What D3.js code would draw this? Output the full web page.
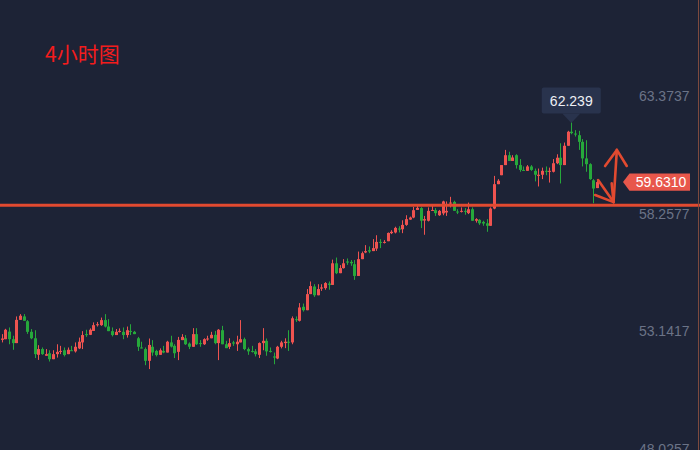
<!DOCTYPE html>
<html lang="zh">
<head>
<meta charset="UTF-8">
<title>4小时图</title>
<style>
  html, body { margin: 0; padding: 0; background: #1d2336; }
  svg { display: block; }
</style>
</head>
<body>
<svg id="chart" width="700" height="450"></svg>
<script src="https://d3js.org/d3.v7.min.js"></script>
<script>
// candle values, oldest first (4h bars)
const opens = [52.77,52.80,53.13,52.80,52.63,53.64,53.79,53.58,53.12,52.84,52.12,52.37,52.08,52.19,51.93,52.15,52.25,52.32,52.15,52.32,
  52.27,52.40,52.66,53.02,52.99,53.16,53.41,53.41,53.63,53.35,53.15,52.98,53.12,53.12,52.98,53.16,53.12,52.84,52.44,52.37,
  51.86,52.47,52.29,52.12,52.29,52.22,52.66,52.51,52.25,52.76,52.84,52.61,52.47,53.02,52.63,52.58,52.80,52.84,52.99,52.63,
  53.19,52.58,52.47,52.66,52.58,52.66,52.80,52.37,52.29,52.27,52.12,52.63,52.73,52.29,52.05,51.96,52.47,52.63,52.69,52.66,
  53.67,53.60,54.21,54.06,54.76,55.09,54.71,55.00,55.02,55.22,55.16,56.10,55.67,55.89,56.18,56.16,56.06,55.55,56.28,56.57,
  56.67,56.63,56.74,57.03,57.00,57.06,57.41,57.44,57.61,57.58,57.77,58.00,58.09,58.42,58.50,57.96,57.95,58.38,58.41,58.19,
  58.27,58.31,58.70,58.77,58.35,58.35,58.38,58.28,58.45,57.95,57.99,57.90,57.84,57.73,58.48,59.54,59.93,60.37,60.80,60.55,
  60.80,60.37,60.16,60.12,60.31,60.12,59.90,59.95,60.12,60.08,60.08,60.45,60.69,60.37,61.21,61.82,61.74,61.67,61.38,60.66,
  60.41,59.71,59.37];
const highs = [53.02,53.25,53.31,52.95,53.79,53.89,53.89,53.63,53.24,53.19,52.54,52.44,52.37,52.32,52.32,52.58,52.51,52.44,52.44,52.51,
  52.66,52.87,53.15,53.21,53.27,53.53,53.55,53.74,53.89,53.67,53.31,53.24,53.27,53.31,53.35,53.45,53.16,52.90,52.69,52.44,
  52.83,52.76,52.34,52.40,52.51,52.73,52.95,52.58,52.90,53.02,52.98,52.66,53.28,53.28,52.76,52.84,52.95,53.12,53.16,53.24,
  53.38,52.73,52.84,52.73,52.95,53.63,52.87,52.44,52.51,52.37,52.66,53.28,52.83,52.44,52.22,52.51,52.73,52.84,53.19,53.79,
  53.79,54.37,54.35,54.98,55.31,55.19,55.19,55.19,55.28,55.31,56.26,56.35,56.02,56.28,56.31,56.24,56.24,56.61,56.61,56.89,
  56.83,57.15,57.32,57.15,57.11,57.44,57.54,57.69,57.71,57.97,58.19,58.13,58.55,58.60,58.54,58.16,58.53,58.63,58.50,58.42,
  58.82,58.79,58.99,58.82,58.45,58.53,58.50,58.74,58.53,58.06,58.02,57.95,58.02,58.53,59.90,59.76,60.37,61.03,60.95,60.80,
  60.84,60.63,60.31,60.37,60.37,60.22,60.22,60.26,60.31,60.26,60.63,60.84,61.32,61.35,61.86,62.239,61.89,61.86,61.50,61.45,
  60.45,59.76,59.76];
const lows = [52.66,52.80,52.58,52.34,52.63,53.64,53.60,53.03,52.80,51.98,51.90,52.12,52.08,51.83,51.93,52.00,52.15,52.05,52.15,52.29,
  52.22,52.37,52.37,52.90,52.98,53.16,53.35,53.38,53.31,53.15,52.92,52.98,53.09,52.80,52.87,52.98,53.02,52.29,52.40,51.67,
  51.50,52.08,52.05,52.12,52.19,52.22,52.44,51.98,51.89,52.76,52.55,52.37,52.47,52.55,52.47,52.55,52.73,52.84,52.58,51.89,
  52.58,52.41,52.37,52.51,52.29,52.66,52.32,52.12,52.22,52.05,51.98,52.32,52.08,52.22,51.71,51.93,52.40,52.41,52.29,52.58,
  53.55,53.57,54.00,54.06,54.76,54.64,54.71,54.90,54.95,54.95,55.16,55.63,55.67,55.87,56.03,55.99,55.38,55.55,56.28,56.54,
  56.54,56.63,56.64,56.76,56.96,57.06,57.37,57.40,57.44,57.41,57.73,57.99,58.06,58.42,57.63,57.34,57.92,58.38,58.16,58.16,
  58.19,58.16,58.53,58.38,58.24,58.31,58.21,58.24,57.95,57.87,57.77,57.73,57.47,57.73,58.45,59.54,59.93,60.37,60.55,60.55,
  60.22,60.08,60.12,60.12,60.12,59.66,59.44,59.76,59.93,59.61,60.05,60.41,59.57,60.37,61.21,61.71,61.61,61.03,60.31,60.08,
  59.73,58.71,59.37];
const closes = [52.83,53.21,52.80,52.63,53.64,53.82,53.60,53.12,52.84,52.15,52.37,52.15,52.15,51.93,52.15,52.25,52.29,52.11,52.34,52.29,
  52.47,52.69,52.98,52.99,53.21,53.41,53.45,53.63,53.35,53.15,52.98,53.12,53.16,52.98,53.19,53.12,53.02,52.47,52.40,51.86,
  52.55,52.22,52.11,52.32,52.22,52.69,52.48,52.19,52.77,52.90,52.58,52.47,53.02,52.58,52.60,52.80,52.83,52.99,52.63,53.21,
  52.58,52.41,52.63,52.61,52.69,52.80,52.37,52.27,52.27,52.15,52.63,52.73,52.27,52.25,52.00,52.47,52.66,52.69,52.66,53.71,
  53.63,54.18,54.06,54.76,55.11,54.71,54.98,55.05,55.24,55.16,56.10,55.67,55.89,56.10,56.13,56.10,55.55,56.28,56.54,56.63,
  56.61,56.76,57.03,57.00,57.03,57.42,57.47,57.64,57.58,57.77,58.02,58.09,58.41,58.51,57.95,58.02,58.38,58.42,58.28,58.38,
  58.79,58.38,58.74,58.38,58.31,58.38,58.35,58.45,57.95,58.02,57.84,57.83,57.73,58.48,59.54,59.69,60.37,60.80,60.55,60.70,
  60.37,60.16,60.12,60.31,60.16,59.95,59.95,60.12,60.08,60.12,60.45,60.69,60.37,61.21,61.82,61.76,61.70,61.38,60.66,60.41,
  59.76,59.35,59.631];

const axisTicks = [63.3737, 58.2577, 53.1417, 48.0257];
const supportLevel = 58.62;
const lastPrice = 59.6310;
const peakIndex = 155; // 0-based
const peakLabel = "62.239";

// hand drawn arrows: [bar index (1-based), price]
const arrowDown = [[163.3, 59.72], [167.5, 58.76]];
const arrowDownHead = [[162.5, 59.07], [167.5, 58.76], [167.0, 59.58]];
const arrowUp = [[167.5, 58.76], [168.4, 61.03]];
const arrowUpHead = [[165.2, 60.33], [168.4, 61.03], [171.1, 60.33]];

const W = 700, H = 450;
const UP = "#ef5350", DOWN = "#26a83b", ACCENT = "#e24a30";

const svg = d3.select("#chart");
svg.append("rect").attr("width", W).attr("height", H).attr("fill", "#1d2336");

const candles = opens.map((o, i) => ({ i: i + 1, o, h: highs[i], l: lows[i], c: closes[i] }));

const x = d3.scaleLinear().domain([1, candles.length]).range([1.6, 597]);
const y = d3.scaleLinear().domain([48.0257, 63.3737]).range([449, 96]);

// right side price labels
svg.append("g")
  .selectAll("text")
  .data(axisTicks)
  .join("text")
    .attr("x", 689.5)
    .attr("y", d => y(d))
    .attr("dy", "0.36em")
    .attr("text-anchor", "end")
    .attr("fill", "#6b7387")
    .style("font", "14px 'Liberation Sans', Arial, sans-serif")
    .text(d => d.toFixed(4));

// candles
const bw = 3;
const g = svg.append("g");
g.selectAll("line")
  .data(candles)
  .join("line")
    .attr("x1", d => Math.round(x(d.i)) + 0.5)
    .attr("x2", d => Math.round(x(d.i)) + 0.5)
    .attr("y1", d => y(d.h))
    .attr("y2", d => y(d.l))
    .attr("stroke", d => d.c >= d.o ? UP : DOWN)
    .attr("stroke-width", 1);

g.selectAll("rect")
  .data(candles)
  .join("rect")
    .attr("x", d => Math.round(x(d.i)) + 0.5 - bw / 2)
    .attr("width", bw)
    .attr("y", d => y(Math.max(d.o, d.c)))
    .attr("height", d => Math.max(1, Math.abs(y(d.o) - y(d.c))))
    .attr("fill", d => d.c >= d.o ? UP : DOWN);

// support line
svg.append("line")
  .attr("x1", 0).attr("x2", W)
  .attr("y1", y(supportLevel)).attr("y2", y(supportLevel))
  .attr("stroke", ACCENT).attr("stroke-width", 3);

// right edge line
svg.append("line")
  .attr("x1", 698.5).attr("x2", 698.5).attr("y1", 0).attr("y2", H)
  .attr("stroke", "#7d4a3e").attr("stroke-width", 1);

// arrows
const line = d3.line().x(d => x(d[0])).y(d => y(d[1]));
[arrowDown, arrowDownHead, arrowUp, arrowUpHead].forEach(pts => {
  svg.append("path")
    .attr("d", line(pts))
    .attr("fill", "none")
    .attr("stroke", ACCENT)
    .attr("stroke-width", 2.6)
    .attr("stroke-linecap", "round")
    .attr("stroke-linejoin", "round");
});

// peak tooltip
const pk = candles[peakIndex];
const px = x(pk.i), tipY = y(pk.h) + 1;
const tip = svg.append("g");
tip.append("rect")
  .attr("x", px - 29.5).attr("y", tipY - 35.5)
  .attr("width", 59).attr("height", 26).attr("rx", 2)
  .attr("fill", "#29334d");
tip.append("path")
  .attr("d", `M${px - 9},${tipY - 9.5}L${px + 9},${tipY - 9.5}L${px},${tipY}Z`)
  .attr("fill", "#29334d");
tip.append("text")
  .attr("x", px).attr("y", tipY - 22.5)
  .attr("dy", "0.36em")
  .attr("text-anchor", "middle")
  .attr("fill", "#eef0f5")
  .style("font", "14px 'Liberation Sans', Arial, sans-serif")
  .text(peakLabel);

// last price tag
const ly = y(lastPrice);
svg.append("path")
  .attr("d", `M623,${ly}L629.5,${ly - 8.7}L690,${ly - 8.7}L690,${ly + 8.7}L629.5,${ly + 8.7}Z`)
  .attr("fill", "#e8574b");
svg.append("text")
  .attr("x", 661).attr("y", ly)
  .attr("dy", "0.36em")
  .attr("text-anchor", "middle")
  .attr("fill", "#ffffff")
  .style("font", "14px 'Liberation Sans', Arial, sans-serif")
  .text(lastPrice.toFixed(4));

// title
svg.append("text")
  .attr("x", 45).attr("y", 61.5)
  .attr("fill", "#f41c1c")
  .style("font", "21px 'Noto Sans CJK SC', sans-serif")
  .text("4小时图");
</script>
</body>
</html>
